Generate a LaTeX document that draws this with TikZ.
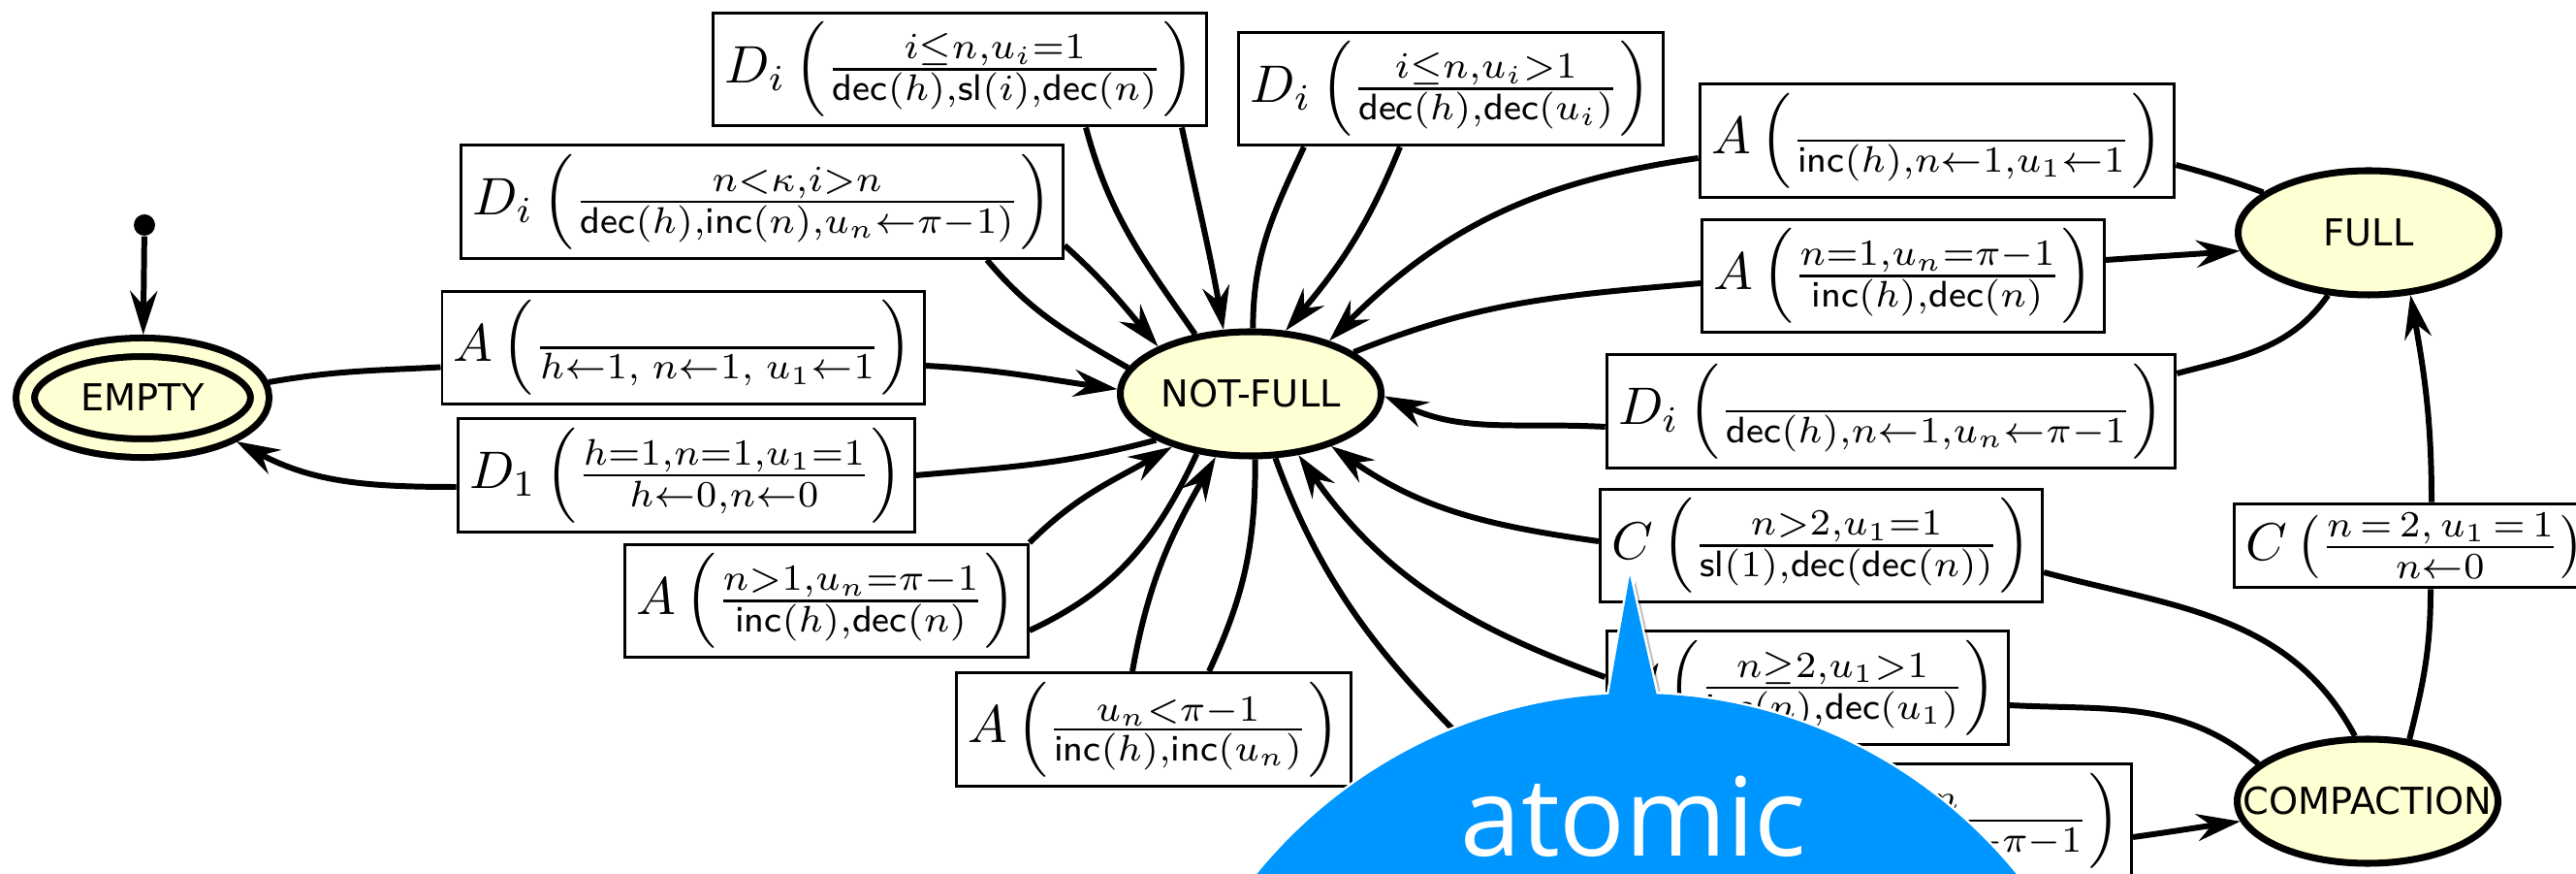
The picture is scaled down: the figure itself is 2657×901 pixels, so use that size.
\documentclass[tikz,border=0pt]{standalone}
\usepackage{amsmath}
\usepackage{graphicx}
\usepackage{fontspec}
\usetikzlibrary{arrows.meta,shapes.geometric}
\newfontfamily\statefont{DejaVu Sans}
\newfontfamily\calloutfont{Open Sans}
\definecolor{statefill}{RGB}{255,255,212}
\definecolor{calloutblue}{RGB}{0,150,255}
\newcommand{\fdec}{\mathsf{dec}}
\newcommand{\finc}{\mathsf{inc}}
\newcommand{\fsl}{\mathsf{sl}}
\newcommand{\tlab}[3]{\scalebox{1.548}{$#1\left(\frac{#2}{#3}\right)$}}
\begin{document}
\begin{tikzpicture}[x=0.1mm,y=0.1mm,
  state/.style={ellipse,draw,line width=2pt,fill=statefill,minimum width=26.9mm,minimum height=12.8mm,inner sep=0pt,font=\statefont\fontsize{10.9}{13}\selectfont},
  accepting/.style={state,double=statefill,double distance=1.2mm,minimum width=24.2mm,minimum height=10.4mm,outer sep=1.3mm},
  trans/.style={draw,line width=0.85pt,fill=white,inner xsep=1.2mm,inner ysep=0.95mm},
  conn/.style={line width=1.7pt},
  arr/.style={conn,-{Stealth[length=4.5mm,width=2.8mm,inset=1.5mm]}}]
\useasboundingbox (0,0) rectangle (2657,-901);
\fill[white] (0,0) rectangle (2657,-901);
\clip (0,0) rectangle (2657,-901);
% states
\node[circle,fill,inner sep=0pt,minimum size=2.2mm] (init) at (149,-232) {};
\node[accepting] (empty) at (147,-410) {\makebox[0pt]{EMPTY}};
\node[state] (notfull) at (1290,-406) {\makebox[0pt]{NOT-FULL}};
\node[state] (full) at (2443,-240) {\makebox[0pt]{FULL}};
\node[state] (compaction) at (2442,-826) {\makebox[0pt]{COMPACTION}};
% transition labels
\node[trans] (b1) at (990,-71.5) {\tlab{D_i}{i\leq n,u_i=1}{\fdec(h),\fsl(i),\fdec(n)}};
\node[trans] (b2) at (1496.5,-91.5) {\tlab{D_i}{i\leq n,u_i>1}{\fdec(h),\fdec(u_i)}};
\node[trans] (b3) at (786,-208) {\tlab{D_i}{n<\kappa,i>n}{\fdec(h),\finc(n),u_n\leftarrow\pi-1)}};
\node[trans] (b4) at (704.5,-358.5) {\tlab{A}{}{h\leftarrow1,\;n\leftarrow1,\;u_1\leftarrow1}};
\node[trans] (b5) at (707.5,-490) {\tlab{D_1}{h=1,n=1,u_1=1}{h\leftarrow0,n\leftarrow0}};
\node[trans] (b6) at (852.5,-619.5) {\tlab{A}{n>1,u_n=\pi-1}{\finc(h),\fdec(n)}};
\node[trans] (b7) at (1190,-752) {\tlab{A}{u_n<\pi-1}{\finc(h),\finc(u_n)}};
\node[trans] (b8) at (1998,-145) {\tlab{A}{}{\finc(h),n\leftarrow1,u_1\leftarrow1}};
\node[trans] (b9) at (1963,-284.5) {\tlab{A}{n=1,u_n=\pi-1}{\finc(h),\fdec(n)}};
\node[trans] (b10) at (1950.5,-424) {\tlab{D_i}{}{\fdec(h),n\leftarrow1,u_n\leftarrow\pi-1}};
\node[trans] (b11) at (1878.5,-562.5) {\tlab{C}{n>2,u_1=1}{\fsl(1),\fdec(\fdec(n))}};
\node[trans] (b12) at (1864,-709) {\tlab{C}{n\geq2,u_1>1}{\finc(n),\fdec(u_1)}};
\node[trans,anchor=east] (b13) at (2200,-846) {\tlab{D_i}{n=\kappa,i>n}{\fdec(h),\finc(n),u_n\leftarrow\pi-1}};
\node[trans,anchor=west] (b14) at (2303,-562.5) {\tlab{C}{n\,=\,2,\,u_1\,=\,1}{n\leftarrow0}};
% transitions
\draw[arr] (init) -- (empty);
\draw[conn] (empty.7.5) to[out=10,in=183] ([yshift=-2mm]b4.west);
\draw[arr] ([yshift=-1.85mm]b4.east) to[out=-3,in=172] (notfull.178);
\draw[conn] (notfull.206) to[out=195,in=5] (b5.east);
\draw[arr] ([yshift=-1.2mm]b5.west) to[out=180,in=-28] (empty.-25);
\draw[conn] (notfull.168) to[out=150,in=-50] ([xshift=23.2mm]b3.south);
\draw[arr] ([yshift=-4.5mm]b3.east) to[out=-42,in=130] (notfull.153);
\draw[conn] (notfull.133) to[out=125,in=-75] ([xshift=13mm]b1.south);
\draw[arr] ([xshift=22.9mm]b1.south) to[out=-78,in=100] (notfull.113);
\draw[conn] (notfull.88) to[out=90,in=-115] ([xshift=-15.15mm]b2.south);
\draw[arr] ([xshift=-5.25mm]b2.south) to[out=-112,in=50] (notfull.61);
\draw[conn] (full.159) to[out=160,in=-15] ([yshift=-2.5mm]b8.east);
\draw[arr] ([yshift=-1.8mm]b8.west) to[out=188,in=45] (notfull.34);
\draw[conn] (notfull.22) to[out=22,in=185] ([yshift=-0.75mm]b9.west);
\draw[arr] ([yshift=1.65mm]b9.east) to[out=4,in=184] (full.188);
\draw[conn] (full.237) to[out=235,in=15] ([yshift=3.9mm]b10.east);
\draw[arr] ([yshift=-1.6mm]b10.west) to[out=177,in=-25] (notfull.-1);
\draw[conn] (compaction.101) to[out=118,in=-15] ([yshift=-2.75mm]b11.east);
\draw[arr] ([yshift=0.45mm]b11.west) to[out=172,in=-35] (notfull.-33);
\draw[conn] (compaction.161) to[out=140,in=-3] ([yshift=-1.8mm]b12.east);
\draw[arr] ([yshift=1.1mm]b12.west) to[out=160,in=-55] (notfull.-52);
\draw[conn] (notfull.-86) to[out=-90,in=65] ([xshift=5.7mm]b7.north);
\draw[arr] ([xshift=-2.2mm]b7.north) to[out=80,in=240] (notfull.241);
\draw[conn] (notfull.228) to[out=245,in=25] ([yshift=-3.05mm]b6.east);
\draw[arr] (b6.north east) to[out=45,in=210] (notfull.214);
\draw[conn] (notfull.-69) to[out=-70,in=135] (b13.west);
\draw[arr] ([yshift=-1.7mm]b13.east) to[out=8,in=188] (compaction.189);
\draw[conn] (compaction.56) to[out=76,in=-90] ([xshift=20.4mm]b14.south west);
\draw[arr] ([xshift=20.5mm]b14.north west) to[out=90,in=-80] (full.-56);
% callout
\begin{scope}[xshift=0.6mm,yshift=-0.6mm]
\fill[black,opacity=0.25] (1688,-1220) circle (505) (1681,-593) -- (1655,-740) -- (1714,-740) -- cycle;
\end{scope}
\filldraw[calloutblue,draw=white,line width=1.4pt] (1688,-1220) circle (505) (1681,-593) -- (1655,-740) -- (1714,-740) -- cycle;
\fill[calloutblue] (1688,-1220) circle (505) (1681,-593) -- (1655,-740) -- (1714,-740) -- cycle;
\node[font=\calloutfont\fontsize{32}{38}\selectfont,text=white,anchor=base] (atomic) at (1685,-882) {atomic};
\end{tikzpicture}
\end{document}
